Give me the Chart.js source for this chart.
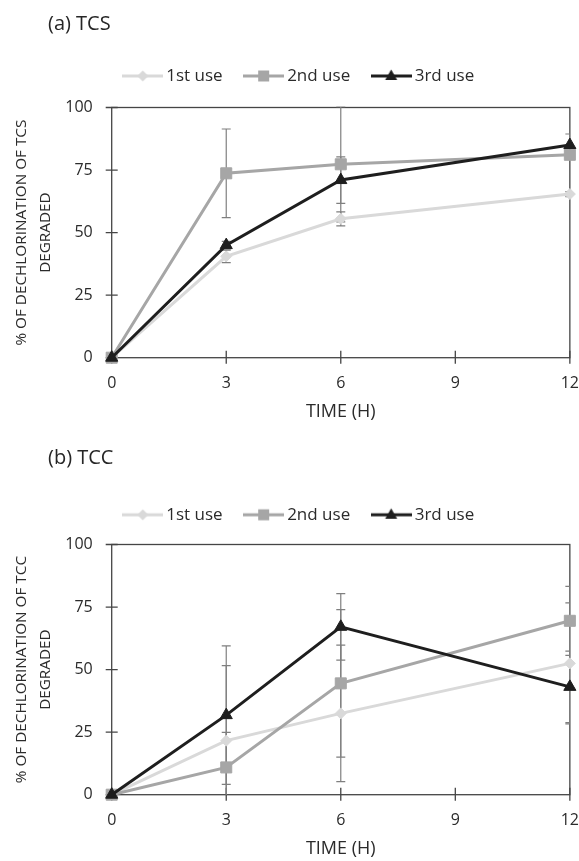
<!DOCTYPE html>
<html>
<head>
<meta charset="utf-8">
<script src="https://cdn.jsdelivr.net/npm/chart.js@4.4.1/dist/chart.umd.min.js"></script>
<style>
  html, body { margin: 0; width: 579px; height: 861px; overflow: hidden; background: #fff; }
  body { position: relative; font-family: "Open Sans", sans-serif; color: #262626; }
  .panel { position: absolute; left: 0; width: 579px; height: 424px; }
  .caption { position: absolute; left: 48px; font-size: 20px; line-height: 24px; }
</style>
</head>
<body>
<div class="panel" style="top: 0"><canvas id="tcsChart"></canvas></div>
<div class="panel" style="top: 437px"><canvas id="tccChart"></canvas></div>
<div class="caption" style="top: 11px">(a) TCS</div>
<div class="caption" style="top: 445px">(b) TCC</div>
<script>
const hours = [0, 3, 6, 12];
const seriesNames = ["1st use", "2nd use", "3rd use"];
const xTicks = [0, 3, 6, 9, 12];
const yTicks = [0, 25, 50, 75, 100];

// (a) TCS
const tcsFirst = [0, 40.5, 55.5, 65.4];
const tcsSecond = [0, 73.7, 77.3, 81.1];
const tcsThird = [0, 45, 71, 85];
const tcsFirstErr = [0, 2.5, 2.8, 1];
const tcsSecondErr = [0, 17.7, 23, 1.5];
const tcsThirdErr = [0, 1.5, 9.3, 4.4];

// (b) TCC
const tccFirst = [0, 21.6, 32.5, 52.5];
const tccSecond = [0, 10.9, 44.5, 69.5];
const tccThird = [0, 31.8, 67.1, 43.1];
const tccFirstErr = [0, 30, 27.3, 24.2];
const tccSecondErr = [0, 14, 29.5, 13.8];
const tccThirdErr = [0, 27.7, 13.3, 14.3];

const colors = ["#d9d9d9", "#a6a6a6", "#1e1e1e"];
const markers = ["rectRot", "rect", "triangle"];
const markerSizes = [5.5, 7.8, 7];
const textColor = "#2b2b2b";

Chart.defaults.font.family = '"Open Sans", sans-serif';
Chart.defaults.color = textColor;

const legendIcon = (i) => {
  const c = document.createElement("canvas");
  c.width = 41;
  c.height = 18;
  const g = c.getContext("2d");
  g.strokeStyle = colors[i];
  g.fillStyle = colors[i];
  g.lineWidth = 3;
  g.beginPath();
  g.moveTo(0, 9);
  g.lineTo(41, 9);
  g.stroke();
  g.beginPath();
  if (i === 0) {
    g.moveTo(20.5, 3.5); g.lineTo(26, 9); g.lineTo(20.5, 14.5); g.lineTo(15, 9);
  } else if (i === 1) {
    g.rect(15, 3.5, 11, 11);
  } else {
    g.moveTo(20.5, 2.5); g.lineTo(26.5, 13); g.lineTo(14.5, 13);
  }
  g.closePath();
  g.fill();
  return c;
};
const icons = [0, 1, 2].map(legendIcon);

// plot box plus tick marks that cross the axes
const frame = {
  id: "frame",
  beforeDatasetsDraw(chart) {
    const { ctx, chartArea: a, scales: { x, y } } = chart;
    ctx.save();
    ctx.strokeStyle = "#454545";
    ctx.lineWidth = 1.3;
    ctx.strokeRect(a.left, a.top, a.width, a.height);
    ctx.beginPath();
    x.ticks.forEach((t) => {
      const px = x.getPixelForValue(t.value);
      ctx.moveTo(px, a.bottom - 7);
      ctx.lineTo(px, a.bottom + 6);
    });
    y.ticks.forEach((t) => {
      const py = y.getPixelForValue(t.value);
      ctx.moveTo(a.left - 6, py);
      ctx.lineTo(a.left + 6, py);
    });
    ctx.stroke();
    ctx.restore();
  },
};

const errorBars = {
  id: "errorBars",
  beforeDatasetsDraw(chart) {
    const { ctx, chartArea: a, scales: { x, y } } = chart;
    ctx.save();
    ctx.beginPath();
    ctx.rect(a.left, a.top - 1, a.width, a.height + 1);
    ctx.clip();
    ctx.strokeStyle = "#7f7f7f";
    ctx.lineWidth = 1.2;
    chart.data.datasets.forEach((ds) => {
      ds.errors.forEach((e, i) => {
        if (!e) return;
        const p = ds.data[i];
        const px = x.getPixelForValue(p.x);
        const top = y.getPixelForValue(p.y + e);
        const bot = y.getPixelForValue(p.y - e);
        ctx.beginPath();
        ctx.moveTo(px, top); ctx.lineTo(px, bot);
        ctx.moveTo(px - 4.5, top); ctx.lineTo(px + 4.5, top);
        ctx.moveTo(px - 4.5, bot); ctx.lineTo(px + 4.5, bot);
        ctx.stroke();
      });
    });
    ctx.restore();
  },
};

const makeChart = (id, series, errors, yTitle, legendTop, topGap) => {
  new Chart(document.getElementById(id), {
    type: "line",
    data: {
      datasets: series.map((values, i) => ({
        label: seriesNames[i],
        data: hours.map((h, k) => ({ x: h, y: values[k] })),
        errors: errors[i],
        order: 2 - i,
        xAxisID: "x",
        yAxisID: "y",
        borderColor: colors[i],
        backgroundColor: colors[i],
        borderWidth: 3,
        pointStyle: markers[i],
        pointRadius: markerSizes[i],
        pointHoverRadius: markerSizes[i],
        pointBackgroundColor: colors[i],
        pointBorderColor: colors[i],
        pointBorderWidth: 1,
        tension: 0,
        clip: false,
      })),
    },
    options: {
      responsive: true,
      maintainAspectRatio: false,
      animation: false,
      events: [],
      layout: { padding: { top: legendTop, left: 24, right: 1, bottom: 0 } },
      plugins: {
        tooltip: { enabled: false },
        legend: {
          position: "top",
          labels: {
            usePointStyle: true,
            pointStyleWidth: 30,
            padding: 26,
            color: textColor,
            font: { size: 17 },
            sort: (a, b) => a.datasetIndex - b.datasetIndex,
            generateLabels: (chart) =>
              Chart.defaults.plugins.legend.labels
                .generateLabels(chart)
                .map((item) => ({ ...item, pointStyle: icons[item.datasetIndex] })),
          },
        },
      },
      scales: {
        x: {
          type: "linear",
          min: 0,
          max: 12,
          afterBuildTicks: (s) => { s.ticks = xTicks.map((v) => ({ value: v })); },
          afterFit: (s) => { s.height = 66.3; },
          grid: { display: false, drawTicks: false },
          border: { display: false },
          ticks: { padding: 0, autoSkip: false, maxRotation: 0, font: { size: 16, lineHeight: 3.2 }, color: textColor },
          title: { display: true, text: "TIME (H)", color: textColor, font: { size: 18 }, padding: { top: 0, bottom: 1 } },
        },
        y: {
          min: 0,
          max: 100,
          afterBuildTicks: (s) => { s.ticks = yTicks.map((v) => ({ value: v })); },
          afterFit: (s) => { s.width = 87.7; },
          grid: { display: false, drawTicks: false },
          border: { display: false },
          ticks: { padding: 19, font: { size: 16 }, color: textColor },
          title: {
            display: true,
            text: yTitle,
            color: textColor,
            font: { size: 15.3, lineHeight: 1.53 },
            padding: { top: -13.6, bottom: 0 },
          },
        },
        gap: {
          type: "linear",
          position: "top",
          grid: { display: false, drawTicks: false },
          border: { display: false },
          ticks: { display: false },
          afterFit: (s) => { s.height = topGap; },
        },
      },
    },
    plugins: [frame, errorBars],
  });
};

makeChart(
  "tcsChart",
  [tcsFirst, tcsSecond, tcsThird],
  [tcsFirstErr, tcsSecondErr, tcsThirdErr],
  ["% OF DECHLORINATION OF TCS", "DEGRADED"],
  41.5,
  13,
);
makeChart(
  "tccChart",
  [tccFirst, tccSecond, tccThird],
  [tccFirstErr, tccSecondErr, tccThirdErr],
  ["% OF DECHLORINATION OF TCC", "DEGRADED"],
  43.3,
  11.2,
);
</script>
</body>
</html>
